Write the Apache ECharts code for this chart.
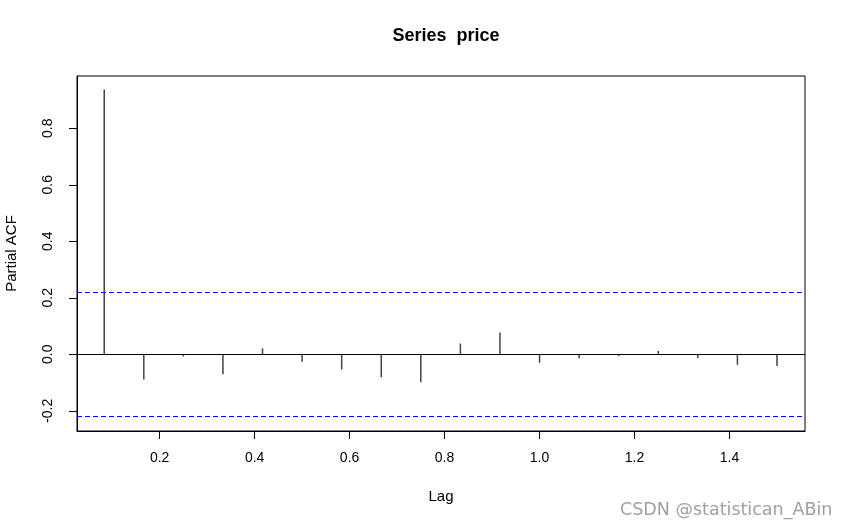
<!DOCTYPE html>
<html>
<head>
<meta charset="utf-8">
<script src="https://cdn.jsdelivr.net/npm/echarts@6/dist/echarts.min.js"></script>
<style>
  html, body { margin: 0; padding: 0; background: #fff; }
  #main { width: 845px; height: 527px; }
</style>
</head>
<body>
<div id="main"></div>
<script>
// lags are k/12, k = 1..18
var lagSteps = [1, 2, 3, 4, 5, 6, 7, 8, 9, 10, 11, 12, 13, 14, 15, 16, 17, 18];
var pacfValues = [0.937, -0.089, -0.008, -0.071, 0.021, -0.026, -0.054, -0.081, -0.099,
                  0.038, 0.077, -0.030, -0.014, -0.006, 0.012, -0.013, -0.037, -0.041];
var ciBound = 0.2245;
var xTicks = [0.2, 0.4, 0.6, 0.8, 1.0, 1.2, 1.4];
var yTicks = [-0.2, 0.0, 0.2, 0.4, 0.6, 0.8];

var font = '"Liberation Sans", Arial, sans-serif';
var chart = echarts.init(document.getElementById('main'));

var pacfData = lagSteps.map(function (k, i) { return [k / 12, pacfValues[i]]; });

var option = {
  animation: false,
  backgroundColor: '#fff',
  title: {
    text: 'Series  price',
    left: 441,
    top: 22,
    textAlign: 'center',
    textStyle: { fontFamily: font, fontSize: 18, fontWeight: 'bold', color: '#000' }
  },
  grid: {
    left: 77, top: 76, right: 40, bottom: 96,
    outerBoundsMode: 'none',
    containLabel: false,
    show: true, borderColor: '#000', borderWidth: 1, backgroundColor: 'transparent'
  },
  xAxis: {
    type: 'value',
    min: 0.026,
    max: 1.559,
    name: 'Lag',
    nameLocation: 'middle',
    nameGap: 58,
    nameTextStyle: { fontFamily: font, fontSize: 15, color: '#000' },
    splitLine: { show: false },
    axisLine: { show: true, onZero: false, lineStyle: { color: '#000' } },
    axisTick: { show: true, length: 8, customValues: xTicks, lineStyle: { color: '#000' } },
    axisLabel: {
      customValues: xTicks,
      margin: 20,
      fontFamily: font, fontSize: 14, color: '#000',
      formatter: function (v) { return v.toFixed(1); }
    }
  },
  yAxis: {
    type: 'value',
    min: -0.2715,
    max: 0.985,
    name: 'Partial ACF',
    nameLocation: 'middle',
    nameGap: 58,
    nameTextStyle: { fontFamily: font, fontSize: 15, color: '#000' },
    splitLine: { show: false },
    axisLine: { show: true, lineStyle: { color: '#000' } },
    axisTick: { show: true, length: 8, customValues: yTicks, lineStyle: { color: '#000' } },
    axisLabel: {
      customValues: yTicks,
      rotate: 90,
      margin: 22,
      fontFamily: font, fontSize: 14, color: '#000',
      formatter: function (v) { return v.toFixed(1); }
    }
  },
  series: [
    {
      type: 'bar',
      data: pacfData,
      barWidth: 1.5,
      itemStyle: { color: '#444' },
      silent: true,
      markLine: {
        silent: true,
        symbol: 'none',
        label: { show: false },
        data: [
          { yAxis: 0, lineStyle: { color: '#000', type: 'solid', width: 1 } },
          { yAxis: ciBound, lineStyle: { color: '#0000ff', type: [5, 3], width: 1 } },
          { yAxis: -ciBound, lineStyle: { color: '#0000ff', type: [5, 3], width: 1 } }
        ]
      }
    }
  ],
  graphic: [
    {
      type: 'text',
      left: 620,
      top: 501,
      style: { text: 'CSDN @statistican_ABin', fontFamily: '"DejaVu Sans", sans-serif', fontSize: 17.5, fill: '#a0a0a0' }
    }
  ]
};
chart.setOption(option);
</script>
</body>
</html>
